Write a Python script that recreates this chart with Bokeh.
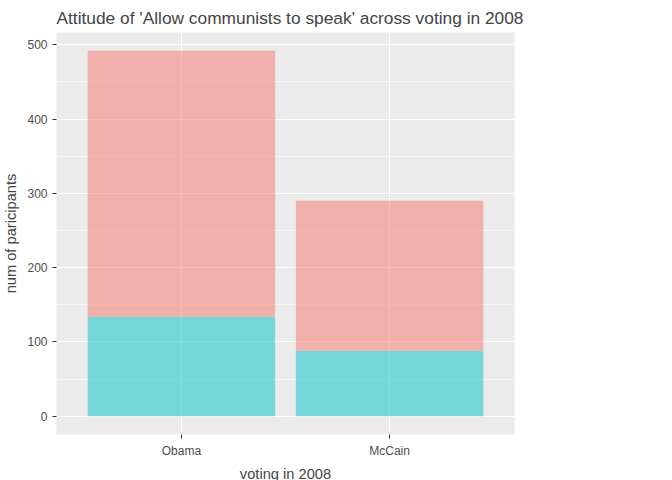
from bokeh.plotting import figure
from bokeh.models import Legend, ColumnDataSource, FixedTicker, FactorRange
from bokeh.embed import file_html
from bokeh.resources import INLINE

votes = ["Obama", "McCain"]
allowed = [358, 202]
not_allowed = [134, 88]
attitudes = ["NOT ALLOWED", "ALLOWED"]

src = ColumnDataSource(dict(x=votes, **{"NOT ALLOWED": not_allowed, "ALLOWED": allowed}))

p = figure(x_range=FactorRange(*votes, range_padding=0.1), y_range=(-24.6, 516.6),
           frame_width=458, frame_height=402,
           output_backend="svg", toolbar_location=None,
           title="Attitude of 'Allow communists to speak' across voting in 2008",
           min_border_left=20, min_border_right=10, min_border_top=10, min_border_bottom=10)
r = p.vbar_stack(attitudes, x="x", width=0.9, source=src,
                 color=["#00BFC4", "#F8766D"], fill_alpha=0.5, line_alpha=0)
p.background_fill_color = "#EBEBEB"
p.border_fill_color = "white"
p.outline_line_color = None
p.xgrid.grid_line_color = "white"
p.ygrid.grid_line_color = "white"
p.ygrid.minor_grid_line_color = "white"
p.ygrid.minor_grid_line_alpha = 0.5
p.yaxis.ticker = FixedTicker(ticks=[0, 100, 200, 300, 400, 500],
                             minor_ticks=[50, 150, 250, 350, 450])
for ax in (p.xaxis, p.yaxis):
    ax.axis_line_color = None
    ax.major_tick_line_color = "#333333"
    ax.minor_tick_line_color = None
    ax.major_tick_out = 4
    ax.major_tick_in = 0
    ax.major_label_text_color = "#4D4D4D"
    ax.major_label_text_font_size = "9pt"
    ax.axis_label_text_font_style = "normal"
    ax.axis_label_text_font_size = "11pt"
    ax.major_label_text_font = "Liberation Sans"
    ax.axis_label_text_font = "Liberation Sans"
p.xaxis.axis_label = "voting in 2008"
p.yaxis.axis_label = "num of paricipants"
p.title.text_font = "Liberation Sans"
p.title.text_font_size = "13pt"
p.title.text_font_style = "normal"

leg = Legend(items=[("ALLOWED", [r[1]]), ("NOT ALLOWED", [r[0]])], title="Attitude",
             location="center", border_line_color=None, background_fill_alpha=0,
             label_text_font_size="9pt", title_text_font_size="11pt",
             title_text_font_style="normal",
             label_text_font="Liberation Sans", title_text_font="Liberation Sans",
             glyph_width=20, glyph_height=20, spacing=3)
p.add_layout(leg, "right")

open("out.html", "w").write(file_html(p, INLINE))
